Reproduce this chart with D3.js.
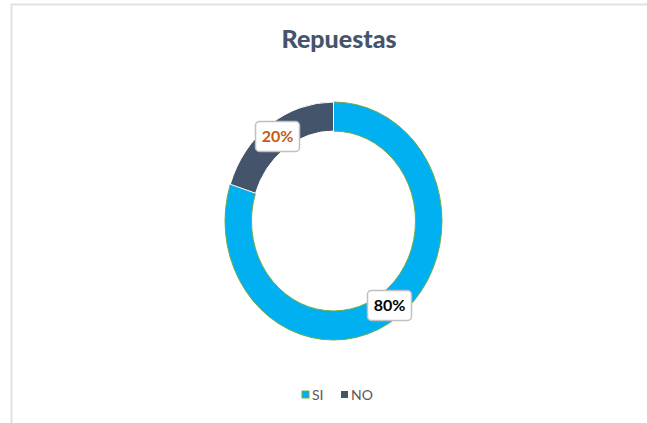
<!DOCTYPE html>
<html>
<head>
<meta charset="utf-8">
<script src="https://cdn.jsdelivr.net/npm/d3@7"></script>
<style>
  body { margin: 0; background: #fff; }
  #chart { width: 647px; height: 423px; }
</style>
</head>
<body>
<div id="chart"></div>
<script>
// Chart data
const categories = ['SI', 'NO'];
const values = [80, 20];
const colors = ['#00b0f0', '#44546a'];
const strokes = ['#70ad47', '#ffffff'];
const labelColors = ['#000000', '#c55a11'];
const title = 'Repuestas';

const width = 647;
const height = 423;
const fontFam = 'Lato, "Open Sans", sans-serif';

const svg = d3.select('#chart')
    .append('svg')
    .attr('width', width)
    .attr('height', height);

// Frame (chart area border)
svg.append('rect')
    .attr('x', 11.5)
    .attr('y', 4.5)
    .attr('width', width)
    .attr('height', height)
    .attr('fill', 'none')
    .attr('stroke', '#dde2ea')
    .attr('stroke-width', 2);

// Title
svg.append('text')
    .attr('x', 339)
    .attr('y', 48)
    .attr('text-anchor', 'middle')
    .style('font-family', fontFam)
    .style('font-size', '25px')
    .style('font-weight', '900')
    .style('fill', '#44546a')
    .text(title);

// Donut (slightly stretched vertically like the original)
const cx = 333.5, cy = 221;
const rOuter = 108.5, rInner = 82;
const yStretch = 119 / 108.5;

const g = svg.append('g')
    .attr('transform', `translate(${cx},${cy}) scale(1,${yStretch})`);

const pie = d3.pie().sort(null).value(d => d);
const arcs = pie(values);
const arc = d3.arc().innerRadius(rInner).outerRadius(rOuter);

g.selectAll('path')
    .data(arcs)
    .enter()
    .append('path')
    .attr('d', arc)
    .attr('fill', (d, i) => colors[i])
    .attr('stroke', (d, i) => strokes[i])
    .attr('stroke-width', 1)
    .attr('vector-effect', 'non-scaling-stroke');

// Data labels in boxes at ring centroid
const total = d3.sum(values);
const labelArc = d3.arc().innerRadius((rInner + rOuter) / 2).outerRadius((rInner + rOuter) / 2);

arcs.forEach((d, i) => {
    const [lx, ly] = labelArc.centroid(d);
    const px = cx + lx;
    const py = cy + ly * yStretch;
    const lg = svg.append('g').attr('transform', `translate(${px},${py})`);
    lg.append('rect')
        .attr('x', -22)
        .attr('y', -15)
        .attr('width', 44)
        .attr('height', 30)
        .attr('rx', 4)
        .attr('fill', '#ffffff')
        .attr('stroke', '#bfbfbf')
        .attr('stroke-width', 1.5);
    lg.append('text')
        .attr('text-anchor', 'middle')
        .attr('dy', '0.36em')
        .style('font-family', fontFam)
        .style('font-size', '16px')
        .style('font-weight', 'bold')
        .style('fill', labelColors[i])
        .text(Math.round(d.data / total * 100) + '%');
});

// Legend
const legendX = [302, 341];
const legend = svg.append('g');
categories.forEach((c, i) => {
    legend.append('rect')
        .attr('x', legendX[i])
        .attr('y', 391)
        .attr('width', 7)
        .attr('height', 7)
        .attr('fill', colors[i])
        .attr('stroke', i === 0 ? strokes[0] : 'none')
        .attr('stroke-width', 1);
    legend.append('text')
        .attr('x', legendX[i] + 10)
        .attr('y', 400)
        .style('font-family', fontFam)
        .style('font-size', '14px')
        .style('fill', '#595959')
        .text(c);
});
</script>
</body>
</html>
